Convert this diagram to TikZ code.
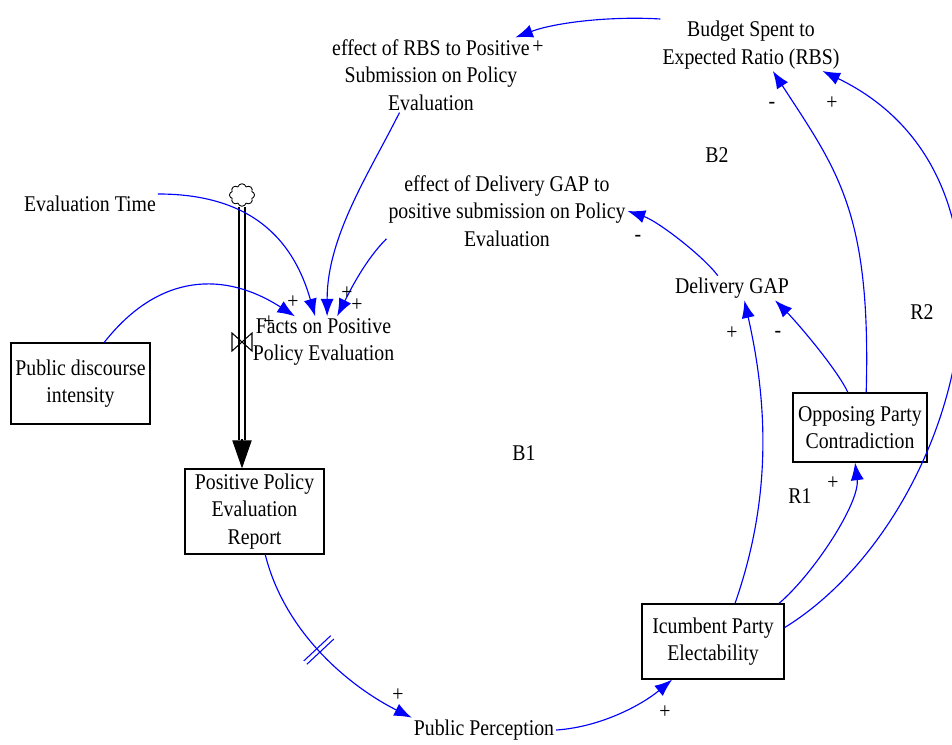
\documentclass[tikz,border=0pt]{standalone}
\usepackage{fontspec}
\setmainfont{Liberation Serif}[FakeStretch=0.88]
\usetikzlibrary{shapes.symbols, arrows.meta}

\begin{document}
\begin{tikzpicture}[
    x=0.02cm, y=-0.02cm,
    font=\fontsize{12.8}{15.6}\selectfont,
    stockbox/.style={draw, line width=0.7pt, align=center, inner sep=1pt},
    varname/.style={align=center, inner sep=1pt},
    polarity/.style={inner sep=0pt},
    looptag/.style={inner sep=0pt},
    link/.style={blue, line width=0.65pt, -{Latex[length=10pt, width=7.5pt]}},
    pipe/.style={double, double distance=2.8pt, line width=0.6pt},
    flowhead/.style={line width=0.6pt, -{Triangle[length=16pt, width=11pt]}}
]

\useasboundingbox (0,0) rectangle (952,744);

% -------------------------
% Stocks (boxed)
% -------------------------
\node[stockbox, minimum width=2.78cm, minimum height=1.62cm] (PDI) at (80.5,383.5) {Public discourse\\intensity};
\node[stockbox, minimum width=2.78cm, minimum height=1.7cm] (PPER) at (254.5,511.5) {Positive Policy\\Evaluation\\Report};
\node[stockbox, minimum width=2.68cm, minimum height=1.38cm] (OPC) at (860,427.5) {Opposing Party\\Contradiction};
\node[stockbox, minimum width=2.84cm, minimum height=1.5cm] (IPE) at (713,641.5) {Icumbent Party\\Electability};

% -------------------------
% Auxiliary Variables
% -------------------------
\node[varname] (RBS) at (751,45) {Budget Spent to\\Expected Ratio (RBS)};
\node[varname] (ERBS) at (431,75) {effect of RBS to Positive\\Submission on Policy\\Evaluation};
\node[varname] (EGAP) at (507,211) {effect of Delivery GAP to\\positive submission on Policy\\Evaluation};
\node[varname] (GAP) at (732,288) {Delivery GAP};
\node[varname] (ET) at (90,204) {Evaluation Time};
\node[varname] (FPPE) at (323.5,342) {Facts on Positive\\Policy Evaluation};
\node[varname] (PP) at (484,730) {Public Perception};

% -------------------------
% Flow into the Report
% -------------------------
\node[cloud, draw, cloud puffs=8, aspect=1.1, inner sep=0pt, minimum width=0.5cm, minimum height=0.45cm, line width=0.5pt] (SRC) at (242,195) {};
\coordinate (FLOWEND) at (SRC.south |- PPER.north);
\coordinate (VALVE) at (SRC.south |- FPPE.west);
\draw[pipe] (SRC.south) -- ([yshift=16pt]FLOWEND);
\draw[flowhead] ([yshift=16.5pt]FLOWEND) -- (FLOWEND);
\draw[line width=0.6pt] (VALVE) +(-10,-9) -- +(10,9) -- +(10,-9) -- +(-10,9) -- cycle;

% -------------------------
% Causal Links
% -------------------------
\draw[link] (RBS.north west) .. controls +(-50,-3) and +(40,-15) .. (ERBS.24);
\draw[link] (ERBS.-130) .. controls +(-30,60) and +(0,-80) .. (FPPE.82);
\draw[link] (EGAP.193) .. controls +(-20,20) and +(15,-30) .. (FPPE.62);
\draw[link] (ET.north east) .. controls +(100,0) and +(-20,-70) .. (FPPE.108);
\draw[link] (PDI.60) .. controls +(55,-70) and +(-70,-45) .. (FPPE.138);
\draw[link] (GAP.139) .. controls +(-15,-20) and +(30,10) .. (EGAP.east);
\draw[link] (IPE.60) .. controls +(35,-100) and +(25,110) .. (GAP.-45);
\draw[link] (OPC.109) .. controls +(-12,-25) and +(20,20) .. (GAP.-16);
\draw[link] (OPC.80) .. controls +(5,-180) and +(65,100) .. (RBS.-50);
\draw[link] (IPE.11) .. controls +(175,-108) and +(228,110) .. (RBS.-20);
\draw[link] (IPE.30) .. controls +(35,-30) and +(5,40) .. (OPC.-98);
\draw[link] (PP.east) .. controls +(45,-3) and +(-30,25) .. (IPE.-137);
\draw[link] (PPER.-76) .. controls +(20,80) and +(-60,-30) .. (PP.north west)
    node[pos=0.47, sloped, inner sep=0pt] (DELAY) {\textcolor{blue}{\rule[-3.7mm]{0.6pt}{7.4mm}\hspace{2pt}\rule[-3.7mm]{0.6pt}{7.4mm}}};

% -------------------------
% Polarities
% -------------------------
\node[polarity] (s1) at (538,47) {+};
\node[polarity] (s2) at (772,105) {-};
\node[polarity] (s3) at (832,103) {+};
\node[polarity] (s4) at (638,238) {-};
\node[polarity] (s5) at (732,333) {+};
\node[polarity] (s6) at (778,334) {-};
\node[polarity] (s7) at (833,483) {+};
\node[polarity] (s8) at (293,302) {+};
\node[polarity] (s9) at (347,293) {+};
\node[polarity] (s10) at (357,305) {+};
\node[polarity] (s11) at (269,322) {+};
\node[polarity] (s12) at (398,695) {+};
\node[polarity] (s13) at (665,712) {+};

% -------------------------
% Loop Names
% -------------------------
\node[looptag] (B1) at (524,453) {B1};
\node[looptag] (B2) at (717,155) {B2};
\node[looptag] (R1) at (800,496) {R1};
\node[looptag] (R2) at (922,312) {R2};

\end{tikzpicture}
\end{document}
